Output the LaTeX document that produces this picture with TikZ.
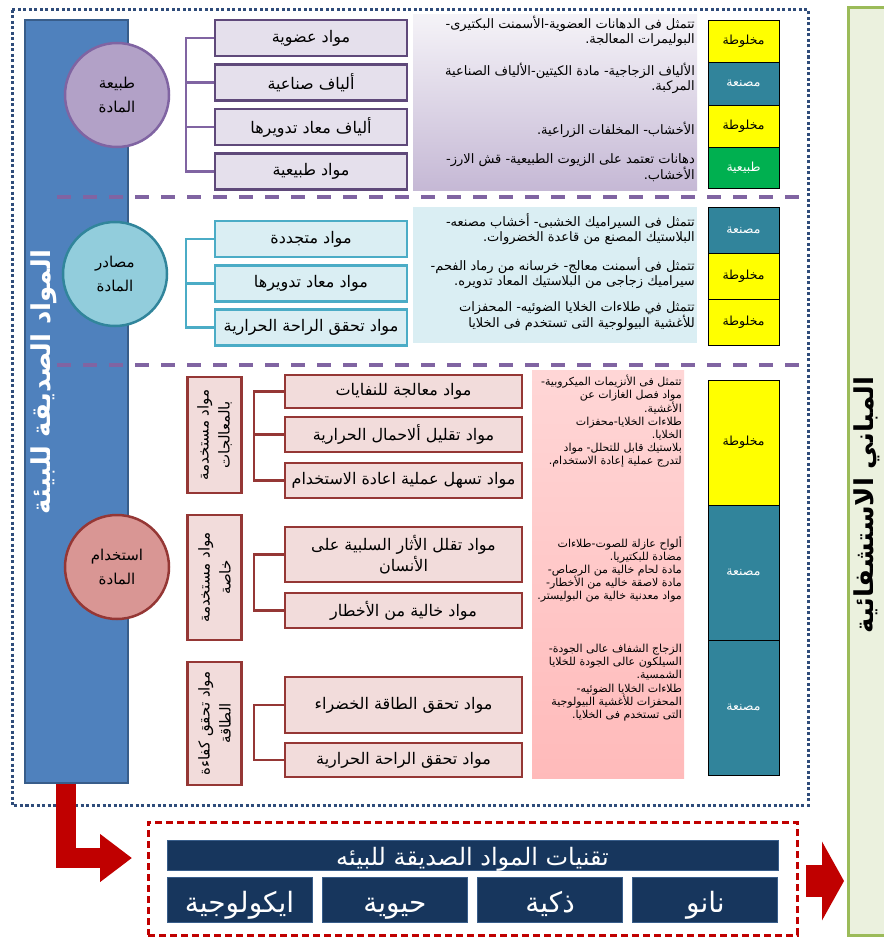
\documentclass[tikz,border=0pt]{standalone}
\usepackage{fontspec}
\usepackage{tikz}
\usetikzlibrary{arrows.meta}
\newfontfamily\arabicfont[Script=Arabic]{DejaVu Sans}
\TeXXeTstate=1
\newcommand{\artxt}[1]{{\arabicfont\beginR #1\endR}}

\definecolor{barblue}{RGB}{79,129,189}
\definecolor{bardark}{RGB}{56,93,138}
\definecolor{dotblue}{RGB}{47,76,122}
\definecolor{purpD}{RGB}{95,73,122}
\definecolor{purpM}{RGB}{128,100,162}
\definecolor{purpL}{RGB}{229,224,236}
\definecolor{purpC}{RGB}{178,161,199}
\definecolor{tealD}{RGB}{75,172,198}
\definecolor{tealE}{RGB}{49,133,155}
\definecolor{tealC}{RGB}{146,205,220}
\definecolor{tealL}{RGB}{218,238,243}
\definecolor{redD}{RGB}{149,55,53}
\definecolor{redC}{RGB}{217,150,148}
\definecolor{redL}{RGB}{242,220,219}
\definecolor{cellyel}{RGB}{255,255,0}
\definecolor{cellteal}{RGB}{49,132,155}
\definecolor{cellgrn}{RGB}{0,176,80}
\definecolor{navy}{RGB}{23,54,93}
\definecolor{arrred}{RGB}{192,0,0}
\definecolor{grnL}{RGB}{235,241,222}
\definecolor{grnD}{RGB}{155,187,89}

\begin{document}
\begin{tikzpicture}[x=1pt, y=-1pt,
  every node/.style={font=\arabicfont},
  lbl/.style={font=\arabicfont\fontsize{16}{21}\selectfont, align=center, inner sep=1pt},
  tbox/.style={lbl, draw=purpD, fill=purpL, line width=2.5pt, minimum width=192, minimum height=36},
  mbox/.style={lbl, draw=tealD, fill=tealL, line width=2.5pt, minimum width=192, minimum height=36},
  ubox/.style={lbl, draw=redD, fill=redL, line width=2.5pt, minimum width=237, minimum height=35},
  vbox/.style={lbl, draw=redD, fill=redL, line width=2.5pt, rotate=90, minimum height=54, font=\arabicfont\fontsize{15}{21}\selectfont},
  circ/.style={circle, line width=2.5pt, minimum size=104, inner sep=0pt, align=center, font=\arabicfont\fontsize{15}{24}\selectfont},
  desc/.style={align=right, inner sep=0pt, font=\arabicfont\fontsize{13}{15}\selectfont},
  ldesc/.style={align=right, inner sep=0pt, font=\arabicfont\fontsize{11}{13.2}\selectfont},
  cell/.style={draw=black, line width=0.8pt, minimum width=71, inner sep=0pt, font=\arabicfont\fontsize{12.5}{14}\selectfont},
  tech/.style={fill=navy, draw=bardark, line width=1pt, text=white, inner sep=0pt, text height=25pt, text depth=0pt, font=\arabicfont\fontsize{28}{30}\selectfont},
  sep/.style={purpM, line width=3.5pt, dash pattern=on 14pt off 12pt}]

\fill[white] (0,0) rectangle (883,939);
\useasboundingbox (0,0) rectangle (883,939);

% outer frame and main bar
\draw[dotblue, line width=3pt, dash pattern=on 3pt off 2.5pt] (12,10) rectangle (808,805);
\node[fill=barblue, draw=bardark, line width=2pt, minimum width=103, minimum height=763] (bar) at (76.5,401.5) {};
\node[rotate=90, text=white, inner sep=0pt, font=\arabicfont\bfseries\fontsize{26}{28}\selectfont] (barT) at (44,382) {\artxt{المواد الصديقة للبيئة}};

% hospital box
\node[fill=grnL, draw=grnD, line width=3pt, minimum width=46, minimum height=927] (hosp) at (871,471.5) {};
\node[rotate=90, inner sep=0pt, font=\arabicfont\bfseries\fontsize{26}{28}\selectfont] (hospT) at (867,505) {\artxt{المباني الاستشفائية}};

% separators
\draw[sep] (57,197) -- (808,197);
\draw[sep] (57,365) -- (808,365);

% circles
\node[circ, fill=purpC, draw=purpM] (C1) at (117,95) {\artxt{طبيعة}\\\artxt{المادة}};
\node[circ, fill=tealC, draw=tealE] (C2) at (115,274) {\artxt{مصادر}\\\artxt{المادة}};
\node[circ, fill=redC, draw=redD] (C3) at (117,567) {\artxt{استخدام}\\\artxt{المادة}};

% nature of material
\node[tbox] (t1) at (311,38) {\artxt{مواد عضوية}};
\node[tbox] (t2) at (311,82.5) {\artxt{ألياف صناعية}};
\node[tbox] (t3) at (311,127) {\artxt{ألياف معاد تدويرها}};
\node[tbox] (t4) at (311,171.5) {\artxt{مواد طبيعية}};
\draw[purpM, line width=2.5pt] (t1.west) -- ++(-28,0) |- (t4.west);
\draw[purpM, line width=2.5pt] (t2.west) -- ++(-28,0);
\draw[purpM, line width=2.5pt] (t3.west) -- ++(-28,0);

\node[top color=purpL!40, bottom color=purpC!75, minimum width=284, minimum height=175, inner sep=0pt] (pd) at (555,102.5) {};
\node[desc, anchor=north east] (p1) at (695,16) {\artxt{تتمثل فى الدهانات العضوية-الأسمنت البكتيرى-}\\\artxt{البوليمرات المعالجة.}};
\node[desc, anchor=north east] (p2) at (695,63) {\artxt{الألياف الزجاجية- مادة الكيتين-الألياف الصناعية}\\\artxt{المركبة.}};
\node[desc, anchor=north east] (p3) at (695,122) {\artxt{الأخشاب- المخلفات الزراعية.}};
\node[desc, anchor=north east] (p4) at (695,153) {\artxt{دهانات تعتمد على الزيوت الطبيعية- قش الارز-}\\\artxt{الأخشاب.}};

\node[cell, fill=cellyel, minimum height=42] (k1) at (743.5,41) {\artxt{مخلوطة}};
\node[cell, fill=cellteal, text=white, minimum height=43] (k2) at (743.5,83.5) {\artxt{مصنعة}};
\node[cell, fill=cellyel, minimum height=42] (k3) at (743.5,126) {\artxt{مخلوطة}};
\node[cell, fill=cellgrn, text=white, minimum height=41] (k4) at (743.5,167.5) {\artxt{طبيعية}};

% sources of material
\node[mbox] (m1) at (311,239) {\artxt{مواد متجددة}};
\node[mbox] (m2) at (311,283.5) {\artxt{مواد معاد تدويرها}};
\node[mbox] (m3) at (311,327.5) {\artxt{مواد تحقق الراحة الحرارية}};
\draw[tealD, line width=2.5pt] (m1.west) -- ++(-28,0) |- (m3.west);
\draw[tealD, line width=2.5pt] (m2.west) -- ++(-28,0);

\node[fill=tealL, minimum width=284, minimum height=136, inner sep=0pt] (sd) at (555,275) {};
\node[desc, anchor=north east] (s1) at (695,213) {\artxt{تتمثل فى السيراميك الخشبى- أخشاب مصنعه-}\\\artxt{البلاستيك المصنع من قاعدة الخضروات.}};
\node[desc, anchor=north east] (s2) at (695,257) {\artxt{تتمثل فى أسمنت معالج- خرسانه من رماد الفحم-}\\\artxt{سيراميك زجاجى من البلاستيك المعاد تدويره.}};
\node[desc, anchor=north east] (s3) at (695,301) {\artxt{تتمثل في طلاءات الخلايا الضوئيه- المحفزات}\\\artxt{للأغشية البيولوجية التى تستخدم فى الخلايا}};

\node[cell, fill=cellteal, text=white, minimum height=46] (k5) at (743.5,230) {\artxt{مصنعة}};
\node[cell, fill=cellyel, minimum height=46] (k6) at (743.5,276) {\artxt{مخلوطة}};
\node[cell, fill=cellyel, minimum height=46] (k7) at (743.5,322) {\artxt{مخلوطة}};

% use of material
\node[vbox, minimum width=116] (v1) at (214.5,435) {\artxt{مواد مستخدمة}\\\artxt{بالمعالجات}};
\node[vbox, minimum width=125] (v2) at (214.5,577.5) {\artxt{مواد مستخدمة}\\\artxt{خاصة}};
\node[vbox, minimum width=123] (v3) at (214.5,723.5) {\artxt{مواد تحقق كفاءة}\\\artxt{الطاقة}};

\node[ubox, minimum height=33] (u1) at (403.5,391.5) {\artxt{مواد معالجة للنفايات}};
\node[ubox] (u2) at (403.5,434.5) {\artxt{مواد تقليل ألاحمال الحرارية}};
\node[ubox] (u3) at (403.5,480.5) {\artxt{مواد تسهل عملية اعادة الاستخدام}};
\draw[redD, line width=2.5pt] (u1.west) -- ++(-30,0) |- (u3.west);
\draw[redD, line width=2.5pt] (u2.west) -- ++(-30,0);

\node[ubox, minimum height=55] (u4) at (403.5,554.5) {\artxt{مواد تقلل الأثار السلبية على}\\\artxt{الأنسان}};
\node[ubox] (u5) at (403.5,610.5) {\artxt{مواد خالية من الأخطار}};
\draw[redD, line width=2.5pt] (u4.west) -- ++(-30,0) |- (u5.west);

\node[ubox, minimum height=56] (u6) at (403.5,705) {\artxt{مواد تحقق الطاقة الخضراء}};
\node[ubox, minimum height=34] (u7) at (403.5,760) {\artxt{مواد تحقق الراحة الحرارية}};
\draw[redD, line width=2.5pt] (u6.west) -- ++(-30,0) |- (u7.west);

\node[top color=red!16, bottom color=red!27, minimum width=152, minimum height=408, inner sep=0pt] (ud) at (608,574) {};
\node[ldesc, anchor=north east] (w1) at (682,375) {\artxt{تتمثل فى الأنزيمات الميكروبية-}\\\artxt{مواد فصل الغازات عن}\\\artxt{الأغشية.}\\\artxt{طلاءات الخلايا-محفزات}\\\artxt{الخلايا.}\\\artxt{بلاستيك قابل للتحلل- مواد}\\\artxt{لتدرج عملية إعادة الاستخدام.}};
\node[ldesc, anchor=north east] (w2) at (682,536) {\artxt{ألواح عازلة للصوت-طلاءات}\\\artxt{مضادة للبكتيريا.}\\\artxt{مادة لحام خالية من الرصاص-}\\\artxt{مادة لاصقة خاليه من الأخطار-}\\\artxt{مواد معدنية خالية من البوليستر.}};
\node[ldesc, anchor=north east] (w3) at (682,644) {\artxt{الزجاج الشفاف عالى الجودة-}\\\artxt{السيلكون عالى الجودة للخلايا}\\\artxt{الشمسية.}\\\artxt{طلاءات الخلايا الضوئيه-}\\\artxt{المحفزات للأغشية البيولوجية}\\\artxt{التى تستخدم فى الخلايا.}};

\node[cell, fill=cellyel, minimum height=125] (k8) at (743.5,442.5) {\artxt{مخلوطة}};
\node[cell, fill=cellteal, text=white, minimum height=135] (k9) at (743.5,572.5) {\artxt{مصنعة}};
\node[cell, fill=cellteal, text=white, minimum height=135] (k10) at (743.5,707.5) {\artxt{مصنعة}};

% technologies
\node[draw=arrred, line width=3pt, dash pattern=on 7pt off 4pt, minimum width=649, minimum height=113] (tb) at (472.5,878.5) {};
\node[tech, minimum width=611, minimum height=30, font=\arabicfont\fontsize{24}{26}\selectfont, text height=20pt, text depth=0pt] (tt) at (472.5,855) {\artxt{تقنيات المواد الصديقة للبيئه}};
\node[tech, minimum width=145, minimum height=45] (e1) at (239.6,899.5) {\artxt{ايكولوجية}};
\node[tech, minimum width=145, minimum height=45] (e2) at (394.9,899.5) {\artxt{حيوية}};
\node[tech, minimum width=145, minimum height=45] (e3) at (550.1,899.5) {\artxt{ذكية}};
\node[tech, minimum width=145, minimum height=45] (e4) at (705.4,899.5) {\artxt{نانو}};

% arrows
\coordinate (ls) at (65.5,784);
\coordinate (le) at (132,858);
\draw[arrred, line width=20pt, -{Triangle[length=32pt,width=46pt]}] (ls) |- (le);
\coordinate (rs) at (806,881);
\coordinate (re) at (844,881);
\draw[arrred, line width=32pt, -{Triangle[length=22pt,width=78pt]}] (rs) -- (re);
\end{tikzpicture}
\end{document}
